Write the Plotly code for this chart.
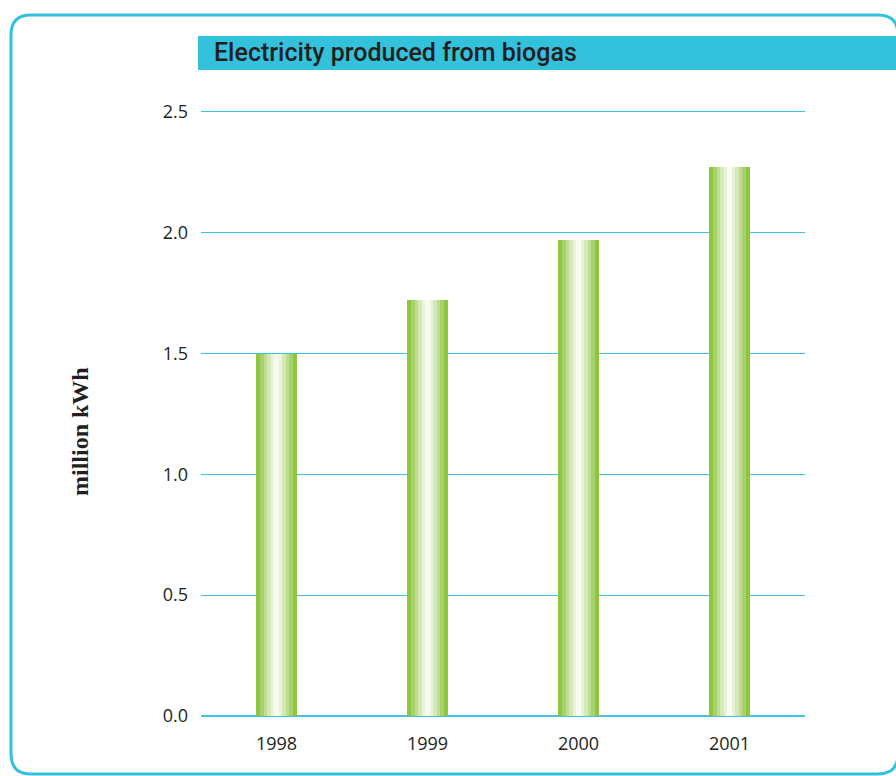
import plotly.graph_objects as go

# ---- data ----
years = ["1998", "1999", "2000", "2001"]
electricity = [1.50, 1.72, 1.97, 2.27]   # million kWh
y_ticks = [0.0, 0.5, 1.0, 1.5, 2.0, 2.5]
y_max = 2.52
title_text = "Electricity produced from biogas"
y_title = "million kWh"

# ---- styling ----
W, H = 896, 776
UNIT = 241.6                     # px per million kWh
L, PW = 201, 604
BOTTOM = 716
PH = round(y_max * UNIT)
T = BOTTOM - PH
CYAN = "#33c1dc"
GRID = "#40c1e6"
TEXT = "#231f20"

# gradient bar imitated by overlaid, narrowing bars
stripe_widths = [0.272, 0.222, 0.172, 0.124, 0.078, 0.032]
stripe_colors = ["#8dc63f", "#a6d16b", "#bedd94", "#d4e9b8", "#e8f3d9", "#f8fbf1"]

def px_x(p):
    return (p - L) / PW

def px_y(p):
    return (BOTTOM - p) / PH

fig = go.Figure()
for w, c in zip(stripe_widths, stripe_colors):
    fig.add_trace(go.Bar(
        x=years, y=electricity, width=w,
        marker=dict(color=c, line=dict(width=0)),
        hoverinfo="x+y", showlegend=False,
    ))

# rounded outer frame
x0, x1 = px_x(11), px_x(898)
y0, y1 = px_y(774), px_y(15)
rx, ry = 20 / PW, 20 / PH
path = (f"M {x0+rx},{y1} L {x1-rx},{y1} Q {x1},{y1} {x1},{y1-ry} "
        f"L {x1},{y0+ry} Q {x1},{y0} {x1-rx},{y0} L {x0+rx},{y0} "
        f"Q {x0},{y0} {x0},{y0+ry} L {x0},{y1-ry} Q {x0},{y1} {x0+rx},{y1} Z")

shapes = [
    dict(type="path", xref="paper", yref="paper", path=path,
         line=dict(color=CYAN, width=3), fillcolor="rgba(0,0,0,0)", layer="below"),
    dict(type="rect", xref="paper", yref="paper",
         x0=px_x(198), x1=px_x(900), y0=px_y(70), y1=px_y(36),
         line=dict(width=0), fillcolor=CYAN, layer="below"),
]

annotations = [
    dict(text=title_text, xref="paper", yref="paper", x=px_x(212), y=px_y(52),
         xanchor="left", yanchor="middle", showarrow=False,
         font=dict(family="Roboto", size=25, color=TEXT, weight=500)),
    dict(text=y_title, xref="paper", yref="paper", x=px_x(80), y=px_y(432),
         xanchor="center", yanchor="middle", showarrow=False, textangle=-90,
         font=dict(family="Liberation Serif", size=24, color=TEXT, weight="bold")),
]

fig.update_layout(
    width=W, height=H,
    margin=dict(l=L, r=W - L - PW, t=T, b=H - BOTTOM),
    paper_bgcolor="white", plot_bgcolor="white",
    barmode="overlay", bargap=0,
    shapes=shapes, annotations=annotations,
    font=dict(family="Open Sans", color=TEXT),
)
fig.update_xaxes(
    type="category", range=[-0.5, 3.5], showgrid=False, showline=False,
    zeroline=False, ticks="", ticklabelstandoff=15,
    tickfont=dict(family="Open Sans", size=18, color=TEXT),
)
fig.update_yaxes(
    range=[0, y_max], tickvals=y_ticks, tickformat=".1f",
    showgrid=True, gridcolor=GRID, gridwidth=1,
    zeroline=True, zerolinecolor=GRID, zerolinewidth=1.5,
    showline=False, ticks="", ticklabelstandoff=12,
    tickfont=dict(family="Open Sans", size=18, color=TEXT),
)

fig.write_html("out.html")
